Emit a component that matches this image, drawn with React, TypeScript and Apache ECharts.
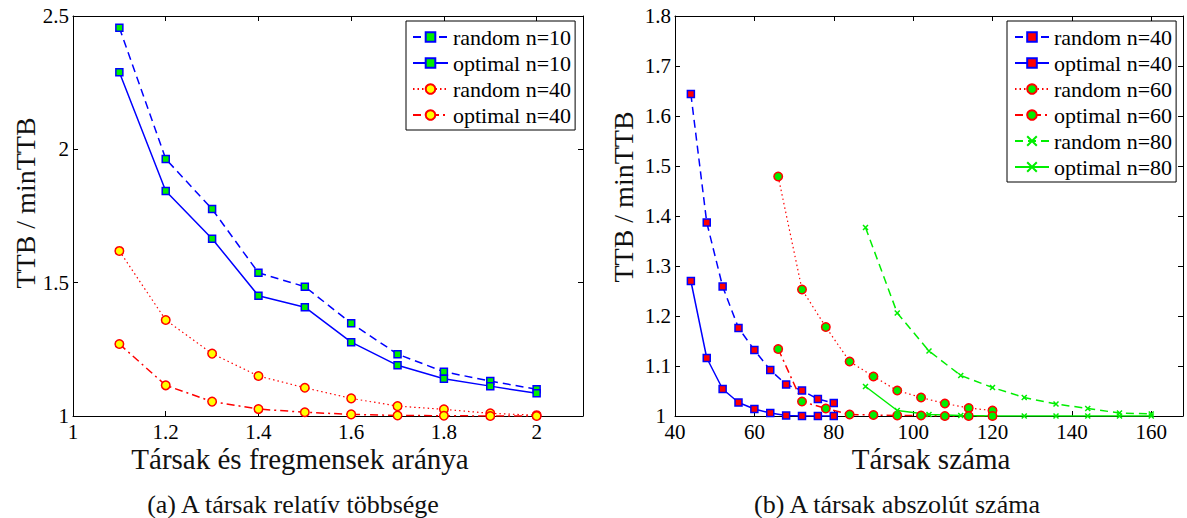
import React, { useEffect, useRef } from "react";
import * as echarts from "echarts";

// ---------- data ----------
const leftX = [1.1, 1.2, 1.3, 1.4, 1.5, 1.6, 1.7, 1.8, 1.9, 2.0];
const leftRandomN10 = [2.456, 1.964, 1.776, 1.537, 1.485, 1.348, 1.232, 1.166, 1.131, 1.1];
const leftOptimalN10 = [2.289, 1.844, 1.665, 1.451, 1.408, 1.277, 1.19, 1.14, 1.112, 1.085];
const leftRandomN40 = [1.619, 1.36, 1.234, 1.15, 1.106, 1.066, 1.037, 1.025, 1.01, 1.003];
const leftOptimalN40 = [1.27, 1.115, 1.054, 1.026, 1.014, 1.006, 1.002, 1.001, 1.0, 1.0];

const rightX40 = [44, 48, 52, 56, 60, 64, 68, 72, 76, 80];
const rightX60 = [66, 72, 78, 84, 90, 96, 102, 108, 114, 120];
const rightX80 = [88, 96, 104, 112, 120, 128, 136, 144, 152, 160];
const rightRandomN40 = [1.644, 1.387, 1.259, 1.176, 1.132, 1.092, 1.063, 1.051, 1.034, 1.026];
const rightOptimalN40 = [1.27, 1.116, 1.054, 1.027, 1.014, 1.006, 1.001, 1.0, 1.0, 1.0];
const rightRandomN60 = [1.479, 1.253, 1.178, 1.109, 1.079, 1.051, 1.037, 1.025, 1.016, 1.011];
const rightOptimalN60 = [1.134, 1.029, 1.015, 1.003, 1.002, 1.001, 1.001, 1.0, 1.0, 1.0];
const rightRandomN80 = [1.377, 1.206, 1.13, 1.081, 1.057, 1.037, 1.024, 1.015, 1.006, 1.004];
const rightOptimalN80 = [1.059, 1.011, 1.003, 1.001, 1.0, 1.0, 1.0, 1.0, 1.0, 1.0];

const leftNames = ["random n=10", "optimal n=10", "random n=40", "optimal n=40"];
const rightNames = ["random n=40", "optimal n=40", "random n=60", "optimal n=60", "random n=80", "optimal n=80"];

const yTitle = "TTB / minTTB";
const leftXTitle = "Társak és fregmensek aránya";
const rightXTitle = "Társak száma";
const leftCaption = "(a) A társak relatív többsége";
const rightCaption = "(b) A társak abszolút száma";

// ---------- styles ----------
const FONT = "'Liberation Serif', 'Times New Roman', serif";
const BLUE = "#0000ff";
const RED = "#ff0000";
const GREEN = "#00ee00";
const YELLOW = "#ffff00";
const DASH = [8, 5];
const DOT = [1.5, 3];
const DASHDOT = [8, 4, 2, 4];
const XMARK = "path://M0,0L10,10M10,0L0,10";

const zip = (xs: number[], ys: number[]) => xs.map((x, i) => [x, ys[i]]);

function mkSeries(
  name: string,
  axis: number,
  xs: number[],
  ys: number[],
  lineColor: string,
  lineType: any,
  lineWidth: number,
  symbol: string,
  symbolSize: number,
  fill: string,
  border: string
) {
  return {
    type: "line",
    name,
    xAxisIndex: axis,
    yAxisIndex: axis,
    data: zip(xs, ys),
    symbol,
    symbolSize,
    showAllSymbol: true,
    lineStyle: { color: lineColor, type: lineType, width: lineWidth },
    itemStyle: { color: fill, borderColor: border, borderWidth: 1.5 },
    emphasis: { disabled: true },
    z: 3,
  };
}

function axisCommon() {
  return {
    axisLine: { show: true, onZero: false, lineStyle: { color: "#000", width: 1 } },
    axisTick: { show: true, inside: true, length: 5, lineStyle: { color: "#000", width: 1 } },
    splitLine: { show: false },
  };
}

export default function App() {
  const ref = useRef<HTMLDivElement>(null);
  useEffect(() => {
    if (!ref.current) return;
    const chart = echarts.init(ref.current, null, { renderer: "svg" });
    const labelStyle = { fontFamily: FONT, fontSize: 21, color: "#000" };
    const grids = [
      { left: 73, top: 16, width: 510, height: 400 },
      { left: 675, top: 16, width: 508, height: 400 },
    ];
    const xLabel = { ...labelStyle, margin: 8, lineHeight: 16, showMaxLabel: false };
    const yLabel = { ...labelStyle, margin: 4, lineHeight: 14 };
    const yLabelRight = {
      ...yLabel,
      formatter: (v: number) => (v === 1 ? "{a|1}" : String(Math.round(v * 10) / 10)),
      rich: { a: { fontFamily: FONT, fontSize: 21, color: "#000", lineHeight: 14, padding: [0, 5, 0, 0] } },
    };
    const xAxes: any[] = [
      {
        type: "value", gridIndex: 0, position: "bottom", min: 1, max: 2.1, interval: 0.2,
        ...axisCommon(), axisLabel: xLabel,
      },
      {
        type: "value", gridIndex: 0, position: "top", min: 1, max: 2.1, interval: 0.2,
        ...axisCommon(), axisLabel: { show: false },
      },
      {
        type: "value", gridIndex: 1, position: "bottom", min: 40, max: 168, interval: 20,
        ...axisCommon(), axisLabel: xLabel,
      },
      {
        type: "value", gridIndex: 1, position: "top", min: 40, max: 168, interval: 20,
        ...axisCommon(), axisLabel: { show: false },
      },
    ];
    const yAxes: any[] = [
      {
        type: "value", gridIndex: 0, position: "left", min: 1, max: 2.5, interval: 0.5,
        ...axisCommon(), axisLabel: yLabel,
      },
      {
        type: "value", gridIndex: 0, position: "right", min: 1, max: 2.5, interval: 0.5,
        ...axisCommon(), axisLabel: { show: false },
      },
      {
        type: "value", gridIndex: 1, position: "left", min: 1, max: 1.8, interval: 0.1,
        ...axisCommon(), axisLabel: yLabelRight,
      },
      {
        type: "value", gridIndex: 1, position: "right", min: 1, max: 1.8, interval: 0.1,
        ...axisCommon(), axisLabel: { show: false },
      },
    ];

    const series: any[] = [
      mkSeries("L:" + leftNames[0], 0, leftX, leftRandomN10, BLUE, DASH, 1.5, "rect", 7, GREEN, BLUE),
      mkSeries("L:" + leftNames[1], 0, leftX, leftOptimalN10, BLUE, "solid", 1.5, "rect", 7, GREEN, BLUE),
      mkSeries("L:" + leftNames[2], 0, leftX, leftRandomN40, RED, DOT, 1.2, "circle", 8.5, YELLOW, RED),
      mkSeries("L:" + leftNames[3], 0, leftX, leftOptimalN40, RED, DASHDOT, 1.5, "circle", 8.5, YELLOW, RED),
      mkSeries("R:" + rightNames[0], 2, rightX40, rightRandomN40, BLUE, DASH, 1.5, "rect", 7, RED, BLUE),
      mkSeries("R:" + rightNames[1], 2, rightX40, rightOptimalN40, BLUE, "solid", 1.5, "rect", 7, RED, BLUE),
      mkSeries("R:" + rightNames[2], 2, rightX60, rightRandomN60, RED, DOT, 1.2, "circle", 8.5, GREEN, RED),
      mkSeries("R:" + rightNames[3], 2, rightX60, rightOptimalN60, RED, DASHDOT, 1.5, "circle", 8.5, GREEN, RED),
      mkSeries("R:" + rightNames[4], 2, rightX80, rightRandomN80, GREEN, DASH, 1.5, XMARK, 5, GREEN, GREEN),
      mkSeries("R:" + rightNames[5], 2, rightX80, rightOptimalN80, GREEN, "solid", 1.5, XMARK, 5, GREEN, GREEN),
    ];

    const legendCommon = {
      orient: "vertical",
      itemGap: 4,
      itemWidth: 35,
      itemHeight: 12,
      backgroundColor: "#fff",
      borderColor: "#000",
      borderWidth: 1,
      borderRadius: 0,
      selectedMode: false,
      textStyle: { fontFamily: FONT, fontSize: 22, color: "#000" },
      formatter: (n: string) => n.slice(2),
      z: 10,
    };

    const textEl = (text: string, x: number, y: number, size: number, rotation = 0) => ({
      type: "text",
      x,
      y,
      rotation,
      z: 20,
      style: {
        text,
        fontFamily: FONT,
        fontSize: size,
        fill: "#111",
        align: "center",
        verticalAlign: "middle",
        textAlign: "center",
        textVerticalAlign: "middle",
      },
    });

    chart.setOption({
      animation: false,
      backgroundColor: "#fff",
      textStyle: { fontFamily: FONT },
      grid: grids,
      xAxis: xAxes,
      yAxis: yAxes,
      series,
      legend: [
        { ...legendCommon, left: 406, top: 21, padding: [5, 4, 4, 6], data: leftNames.map((n) => "L:" + n) },
        { ...legendCommon, left: 1007, top: 21, padding: [5, 4, 4, 7], itemWidth: 34, data: rightNames.map((n) => "R:" + n) },
      ],
      graphic: [
        textEl(yTitle, 25, 203, 28, Math.PI / 2),
        textEl(yTitle, 623, 197, 28, Math.PI / 2),
        textEl(leftXTitle, 300, 459, 29),
        textEl(rightXTitle, 931, 459, 29),
        textEl(leftCaption, 293, 504, 26),
        textEl(rightCaption, 897, 504, 26),
      ],
    });
    return () => chart.dispose();
  }, []);
  return (
    <div
      ref={ref}
      style={{ position: "absolute", left: 0, top: 0, width: 1187, height: 518, background: "#fff" }}
    />
  );
}
